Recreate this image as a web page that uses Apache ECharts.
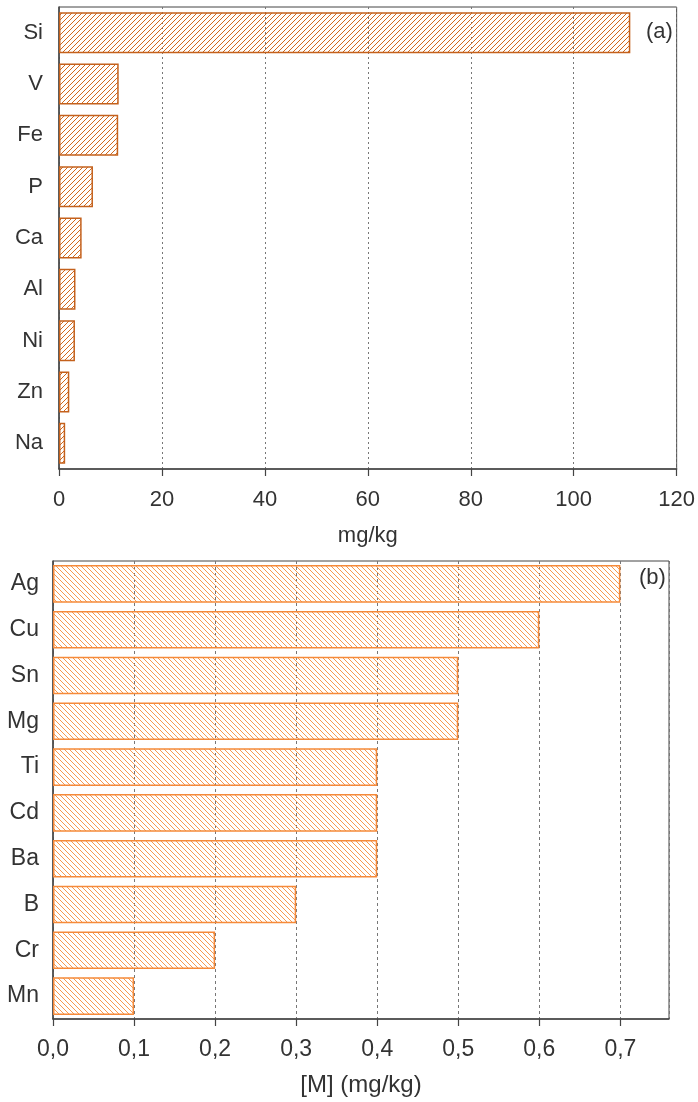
<!DOCTYPE html>
<html><head><meta charset="utf-8">
<script src="https://cdn.jsdelivr.net/npm/echarts@6/dist/echarts.min.js"></script>
<style>html,body{margin:0;padding:0;background:#fff}#c{width:698px;height:1102px}</style>
</head><body><div id="c"></div>
<script>
const catsA = ['Si','V','Fe','P','Ca','Al','Ni','Zn','Na'];
const valsA = [111, 11.6, 11.5, 6.6, 4.4, 3.2, 3.1, 2.0, 1.2];
const catsB = ['Ag','Cu','Sn','Mg','Ti','Cd','Ba','B','Cr','Mn'];
const valsB = [0.7, 0.6, 0.5, 0.5, 0.4, 0.4, 0.4, 0.3, 0.2, 0.1];
const nameA = 'mg/kg';
const nameB = '[M] (mg/kg)';

function hatch(color, dir) {
  const s = 5;
  const c = document.createElement('canvas');
  c.width = s; c.height = s;
  const g = c.getContext('2d');
  g.clearRect(0,0,s,s);
  g.strokeStyle = color; g.lineWidth = 1;
  g.beginPath();
  if (dir > 0) {
    g.moveTo(-1, s+1); g.lineTo(s+1, -1);
    g.moveTo(-1, 1); g.lineTo(1, -1);
    g.moveTo(s-1, s+1); g.lineTo(s+1, s-1);
  } else {
    g.moveTo(-1, -1); g.lineTo(s+1, s+1);
    g.moveTo(-1, s-1); g.lineTo(1, s+1);
    g.moveTo(s-1, -1); g.lineTo(s+1, 1);
  }
  g.stroke();
  return c;
}

const font = '"Liberation Sans", Arial, sans-serif';
const chart = echarts.init(document.getElementById('c'));
chart.setOption({
  animation: false,
  backgroundColor: '#fff',
  grid: [
    {left: 59, top: 7, width: 620, height: 462, show: true, borderColor: '#444', borderWidth: 1, containLabel: false},
    {left: 53, top: 561, width: 616, height: 458, show: true, borderColor: '#444', borderWidth: 1, containLabel: false}
  ],
  xAxis: [
    {gridIndex: 0, type: 'value', min: 0, max: 120, interval: 20,
     name: nameA, nameLocation: 'middle', nameGap: 56,
     nameTextStyle: {fontFamily: font, fontSize: 22, color: '#333'},
     axisLine: {show: true, lineStyle: {color: '#444', width: 1.5}},
     axisTick: {show: true, length: 7, lineStyle: {color: '#444', width: 1.2}},
     axisLabel: {fontFamily: font, fontSize: 22, color: '#333', margin: 20},
     splitLine: {show: true, lineStyle: {type: [2, 3], color: '#777', width: 1}}},
    {gridIndex: 1, type: 'value', min: 0, max: 0.76, interval: 0.1,
     name: nameB, nameLocation: 'middle', nameGap: 54,
     nameTextStyle: {fontFamily: font, fontSize: 24, color: '#333'},
     axisLine: {show: true, lineStyle: {color: '#444', width: 1.5}},
     axisTick: {show: true, length: 7, lineStyle: {color: '#444', width: 1.2}},
     axisLabel: {fontFamily: font, fontSize: 23, color: '#333', margin: 19, showMaxLabel: false,
                 formatter: v => v.toFixed(1).replace('.', ',')},
     splitLine: {show: true, lineStyle: {type: [3, 3], color: '#777', width: 1}}}
  ],
  yAxis: [
    {gridIndex: 0, type: 'category', data: catsA, inverse: true,
     axisLine: {show: true, lineStyle: {color: '#444', width: 1.5}},
     axisTick: {show: false},
     axisLabel: {fontFamily: font, fontSize: 22, color: '#333', margin: 16}},
    {gridIndex: 1, type: 'category', data: catsB, inverse: true,
     axisLine: {show: true, lineStyle: {color: '#444', width: 1.5}},
     axisTick: {show: false},
     axisLabel: {fontFamily: font, fontSize: 23, color: '#333', margin: 14}}
  ],
  series: [
    {type: 'bar', xAxisIndex: 0, yAxisIndex: 0, data: valsA, barCategoryGap: '20%',
     itemStyle: {color: {image: hatch('#d2691e', 1), repeat: 'repeat'}, borderColor: '#c4611c', borderWidth: 1.5}},
    {type: 'bar', xAxisIndex: 1, yAxisIndex: 1, data: valsB, barCategoryGap: '18%',
     itemStyle: {color: {image: hatch('#f7994f', -1), repeat: 'repeat'}, borderColor: '#f58a3a', borderWidth: 1.5}}
  ],
  graphic: [
    {type: 'text', left: 646, top: 21, style: {text: '(a)', font: '22px ' + font, fill: '#333'}},
    {type: 'text', left: 639, top: 567, style: {text: '(b)', font: '22px ' + font, fill: '#333'}}
  ]
});
</script></body></html>
